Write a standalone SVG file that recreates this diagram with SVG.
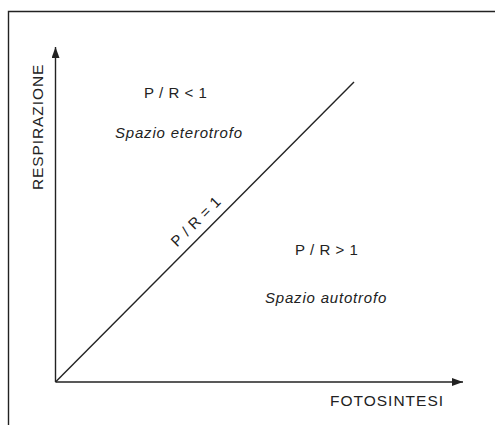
<svg xmlns="http://www.w3.org/2000/svg" width="495" height="425" viewBox="0 0 495 425">
<style>
.ln{stroke:#222;stroke-width:1.4;fill:none}
.t{font-family:"Liberation Sans",Arial,sans-serif;fill:#222;font-size:15px}
.i{font-style:italic}
</style>
<defs>
<marker id="ah" markerWidth="12" markerHeight="10" refX="11" refY="4" orient="auto" markerUnits="userSpaceOnUse">
<path d="M0,0 L11,4 L0,8 Z" fill="#222"/>
</marker>
</defs>
<rect width="495" height="425" fill="#fff"/>
<g id="frame"><path class="ln" d="M8.5,425 V11.5 H495"/></g>
<g id="connectors">
<line class="ln" x1="55.5" y1="382" x2="55.5" y2="47" marker-end="url(#ah)"/>
<line class="ln" x1="55.5" y1="382" x2="463" y2="382" marker-end="url(#ah)"/>
<line class="ln" x1="55.5" y1="382" x2="354" y2="82"/>
</g>
<g id="ylabel"><text class="t" style="font-size:15.5px;letter-spacing:0.9px" transform="translate(43,190) rotate(-90)">RESPIRAZIONE</text></g>
<g id="xlabel"><text class="t" style="font-size:15.5px;letter-spacing:1px" x="330" y="406">FOTOSINTESI</text></g>
<g id="pr-lt"><text class="t" style="letter-spacing:0.55px" x="144" y="98">P / R &lt; 1</text></g>
<g id="eterotrofo"><text class="t i" style="letter-spacing:0.8px" x="115" y="138">Spazio eterotrofo</text></g>
<g id="pr-eq"><text class="t" style="letter-spacing:0.55px" text-anchor="middle" transform="translate(199.5,225) rotate(-45)">P / R = 1</text></g>
<g id="pr-gt"><text class="t" style="letter-spacing:0.55px" x="295" y="255">P / R &gt; 1</text></g>
<g id="autotrofo"><text class="t i" style="letter-spacing:0.8px" x="265" y="303">Spazio autotrofo</text></g>
</svg>
